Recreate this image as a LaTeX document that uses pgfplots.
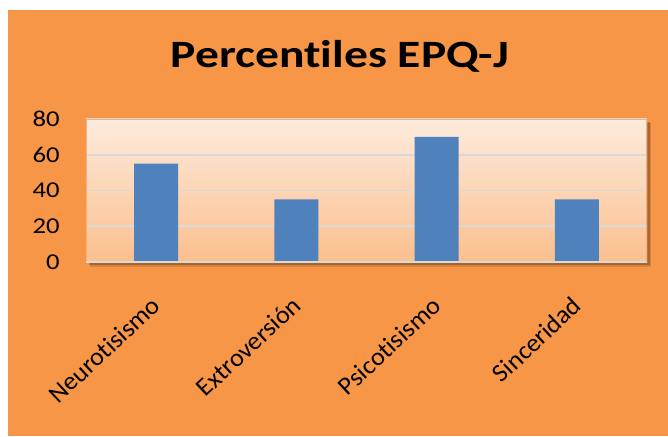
\documentclass[border=0pt]{standalone}
\usepackage{pgfplots}
\pgfplotsset{compat=1.18}
\usepackage{fontspec}
\setmainfont{Carlito}[Ligatures=NoCommon]
\newfontfamily\widefont{Carlito}[FakeStretch=1.18,Ligatures=NoCommon]
\newfontfamily\titlefont{Carlito}[FakeStretch=1.23,Ligatures=NoCommon]
\newfontfamily\labfont{Carlito}[FakeStretch=1.03,Ligatures=NoCommon]
\definecolor{bgorange}{HTML}{F79646}
\definecolor{barblue}{HTML}{4F81BD}
\definecolor{shadetop}{HTML}{FDEBDD}
\definecolor{shadebot}{HTML}{FBBF8E}
\definecolor{gridc}{HTML}{D9D9D9}
\definecolor{rimc}{HTML}{FAB07A}

\pgfplotstableread{
x val
0 55
1 35
2 70
3 35
}\epqdata

\begin{document}
\begin{tikzpicture}
\path[use as bounding box] (0,0) rectangle (501pt,327pt);
\fill[bgorange] (6pt,0) rectangle (501pt,319.5pt);
% shadow of the plot area
\fill[black,opacity=0.22] (66.5pt,128pt) rectangle (487.5pt,235.5pt);
\fill[black,opacity=0.12] (67.5pt,127pt) rectangle (488.5pt,234.5pt);
\node[anchor=base,font=\titlefont\fontsize{29}{34}\selectfont\bfseries] at (255pt,276pt) {Percentiles EPQ-J};
\begin{axis}[
  at={(64.5pt,130.5pt)},anchor=south west,
  scale only axis,width=420.75pt,height=107.25pt,
  ybar,bar width=33pt,
  xmin=-0.5,xmax=3.5,ymin=0,ymax=80,
  xtick={0,1,2,3},
  xticklabels={Neurotisismo,Extroversión,Psicotisismo,Sinceridad},
  ytick={0,20,40,60,80},
  xticklabel style={xshift=-4.5pt,yshift=-24.5pt,rotate=43,anchor=north east,inner sep=0pt,
    font=\labfont\fontsize{19}{22}\selectfont},
  yticklabel style={anchor=east,inner sep=0pt,xshift=-19.5pt,
    font=\widefont\fontsize{17}{20}\selectfont},
  /pgf/number format/assume math mode=true,
  major tick length=0pt,
  axis line style={draw=none},
  ymajorgrids,grid style={gridc,line width=1.4pt},
  axis background/.style={top color=shadetop,bottom color=shadebot},
]
\addplot[fill=barblue,draw=none] table[x=x,y=val] {\epqdata};
\draw[rimc,line width=1pt] (rel axis cs:0,0) rectangle (rel axis cs:1,1);
\draw[gridc,line width=2pt] (rel axis cs:0,0) -- (rel axis cs:1,0);
\end{axis}
\end{tikzpicture}
\end{document}
